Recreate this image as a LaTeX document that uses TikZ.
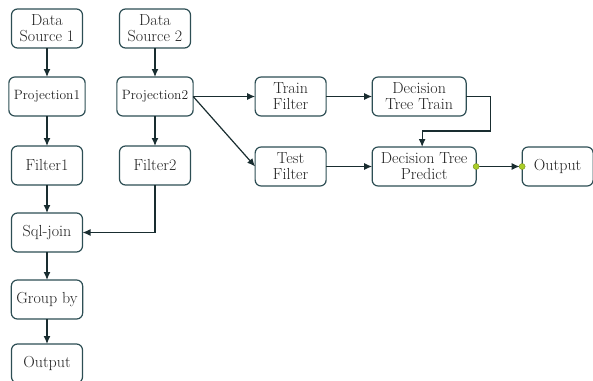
\documentclass[tikz,border=0pt]{standalone}
\usepackage{tikz}
\usetikzlibrary{positioning,arrows.meta}
\definecolor{boxc}{RGB}{45,78,84}
\definecolor{linec}{RGB}{25,45,48}
\definecolor{textc}{RGB}{35,35,35}
\definecolor{dotc}{RGB}{170,205,40}

\begin{document}
\begin{tikzpicture}[x=1pt, y=1pt, node distance = {29pt and 46pt},
	box/.style = {draw=boxc, line width=1.2pt, rounded corners=6pt, fill=white, text=textc, outer sep=0pt, minimum width=71pt, minimum height=39pt, inner sep=5pt, align=center, font=\fontsize{16}{16}\selectfont},
	small/.style = {font=\fontsize{13.5}{14}\selectfont},
	arr/.style = {draw=linec, line width=1.2pt, -{Latex[length=8pt,width=7pt]}},
	dot/.style = {fill=dotc, draw=dotc!70!black, line width=0.4pt}]
	\useasboundingbox (0,0) rectangle (593,-380);
	\node[box] (ds1) at (47,-28.5) {Data\\Source 1};
	\node[box] (ds2) [right=37pt of ds1] {Data\\Source 2};
	\node[box, small] (p1) [below=of ds1] {Projection1};
	\node[box, small] (p2) [below=of ds2] {Projection2};
	\node[box] (f1) [below=30pt of p1] {Filter1};
	\node[box] (f2) [below=30pt of p2] {Filter2};
	\node[box] (join) [below=28pt of f1] {Sql-join};
	\node[box] (group) [below=28pt of join] {Group by};
	\node[box] (out1) [below=25pt of group] {Output};
	\node[box] (train) [right=62pt of p2] {Train\\Filter};
	\node[box] (test) [below=31pt of train] {Test\\Filter};
	\node[box, minimum width=94pt] (dtt) [right=of train] {Decision\\Tree Train};
	\node[box, minimum width=104pt] (predict) [right=of test] {Decision Tree\\Predict};
	\node[box] (out2) [right=of predict] {Output};
	\coordinate[below right=34.5pt and 24pt of dtt.east] (turn);
	\draw[arr] (ds1) -- (p1);
	\draw[arr] (ds2) -- (p2);
	\draw[arr] (p1) -- (f1);
	\draw[arr] (p2) -- (f2);
	\draw[arr] (f1) -- (join);
	\draw[arr] (f2.south) |- (join.east);
	\draw[arr] (join) -- (group);
	\draw[arr] (group) -- (out1);
	\draw[arr] (p2.east) -- (train.west);
	\draw[arr] (p2.east) -- (test.west);
	\draw[arr] (train) -- (dtt);
	\draw[arr] (test) -- (predict);
	\draw[arr] (dtt.east) -| (turn) -| ([xshift=-2pt]predict.north);
	\draw[arr, shorten >=2.5pt] (predict.east) -- (out2.west);
	\filldraw[dot] (predict.east) circle (3pt);
	\filldraw[dot] (out2.west) circle (3pt);
\end{tikzpicture}
\end{document}
